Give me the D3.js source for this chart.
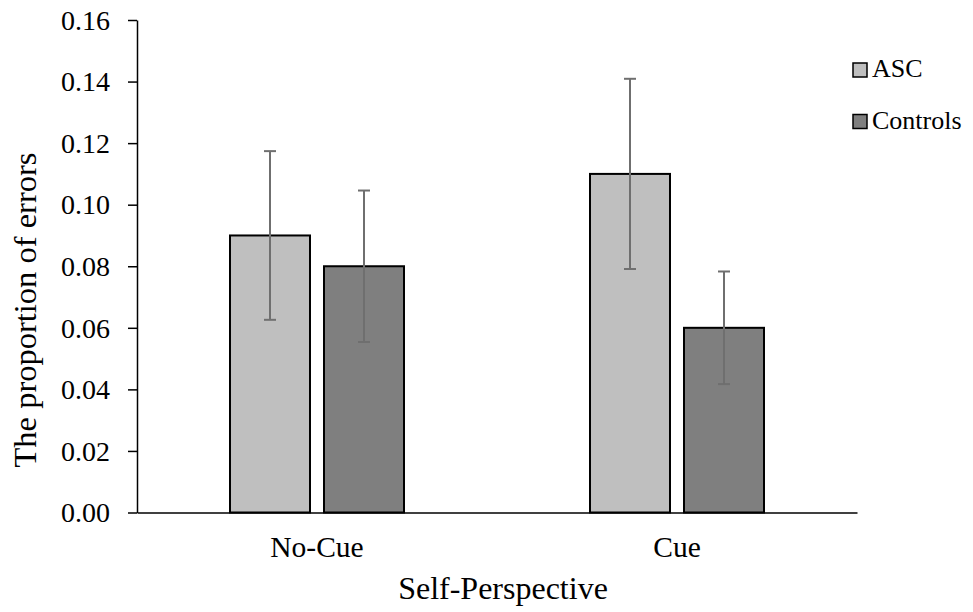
<!DOCTYPE html>
<html>
<head>
<meta charset="utf-8">
<script src="https://cdn.jsdelivr.net/npm/d3@7"></script>
</head>
<body style="margin:0">
<svg id="chart" width="973" height="612"></svg>
<script>
// data
const categories = ["No-Cue", "Cue"];
const groups = ["ASC", "Controls"];
const ascValues = [0.09, 0.11];
const controlValues = [0.08, 0.06];
const ascErrors = [0.0274, 0.0309];
const controlErrors = [0.0246, 0.0183];
const yTicks = [0, 0.02, 0.04, 0.06, 0.08, 0.10, 0.12, 0.14, 0.16];

const colors = { "ASC": "#bfbfbf", "Controls": "#7f7f7f" };
const fontName = "Liberation Serif";

const rows = categories.map((c, i) => ({
  cat: c,
  bars: [
    { group: "ASC", value: ascValues[i], err: ascErrors[i] },
    { group: "Controls", value: controlValues[i], err: controlErrors[i] }
  ]
}));

const svg = d3.select("#chart");

const y = d3.scaleLinear().domain([0, 0.16]).range([512.5, 20]);
const x0 = d3.scaleBand().domain(categories).range([137, 857]);
const x1 = d3.scaleBand().domain(groups).range([93, 267]).paddingInner(14 / 94);

// y axis
const yAxis = svg.append("g")
  .attr("transform", "translate(137,0)")
  .call(d3.axisLeft(y).tickValues(yTicks).tickFormat(d3.format(".2f"))
    .tickSize(9).tickSizeOuter(0).tickPadding(18));
yAxis.attr("font-family", fontName).attr("font-size", 28);
yAxis.select(".domain").attr("stroke", "#000").attr("stroke-width", 1.5);
yAxis.selectAll(".tick line").attr("stroke", "#000").attr("stroke-width", 1.5);
yAxis.selectAll(".tick text")
  .attr("fill", "#000")
  .attr("dy", "0.33em");

// x axis
const xAxis = svg.append("g")
  .attr("transform", `translate(0,${y(0)})`)
  .call(d3.axisBottom(x0).tickSize(0).tickSizeOuter(0).tickPadding(0));
xAxis.attr("font-family", fontName).attr("font-size", 29.5);
xAxis.select(".domain").attr("stroke", "#000").attr("stroke-width", 1.5);
xAxis.selectAll(".tick text")
  .attr("fill", "#000")
  .attr("dy", null)
  .attr("y", 44);

// bars
const catG = svg.selectAll(".cat")
  .data(rows)
  .join("g")
  .attr("class", "cat")
  .attr("transform", d => `translate(${x0(d.cat)},0)`);

catG.selectAll("rect")
  .data(d => d.bars)
  .join("rect")
  .attr("x", d => x1(d.group))
  .attr("y", d => y(d.value))
  .attr("width", x1.bandwidth())
  .attr("height", d => y(0) - y(d.value))
  .attr("fill", d => colors[d.group])
  .attr("stroke", "#000")
  .attr("stroke-width", 2);

// error bars
const errG = catG.selectAll(".err")
  .data(d => d.bars)
  .join("g")
  .attr("class", "err")
  .attr("transform", d => `translate(${x1(d.group) + x1.bandwidth() / 2},0)`)
  .attr("stroke", "#6f6f6f")
  .attr("stroke-width", 2);

errG.append("line")
  .attr("y1", d => y(d.value + d.err))
  .attr("y2", d => y(d.value - d.err));
errG.append("line")
  .attr("x1", -6).attr("x2", 6)
  .attr("y1", d => y(d.value + d.err))
  .attr("y2", d => y(d.value + d.err));
errG.append("line")
  .attr("x1", -6).attr("x2", 6)
  .attr("y1", d => y(d.value - d.err))
  .attr("y2", d => y(d.value - d.err));

// axis titles
svg.append("text")
  .attr("x", 503)
  .attr("y", 599)
  .attr("text-anchor", "middle")
  .attr("font-family", fontName)
  .attr("font-size", 32)
  .text("Self-Perspective");

svg.append("text")
  .attr("transform", "translate(36,310) rotate(-90)")
  .attr("text-anchor", "middle")
  .attr("font-family", fontName)
  .attr("font-size", 32.5)
  .text("The proportion of errors");

// legend
const legend = svg.append("g")
  .attr("transform", "translate(853,63)")
  .attr("font-family", fontName)
  .attr("font-size", 26);

const legendItems = legend.selectAll(".legend-item")
  .data(groups)
  .join("g")
  .attr("class", "legend-item")
  .attr("transform", (d, i) => `translate(0,${i * 51.5})`);

legendItems.append("rect")
  .attr("width", 14)
  .attr("height", 14)
  .attr("fill", d => colors[d])
  .attr("stroke", "#000")
  .attr("stroke-width", 1.5);

legendItems.append("text")
  .attr("x", 19)
  .attr("y", 14)
  .text(d => d);
</script>
</body>
</html>
